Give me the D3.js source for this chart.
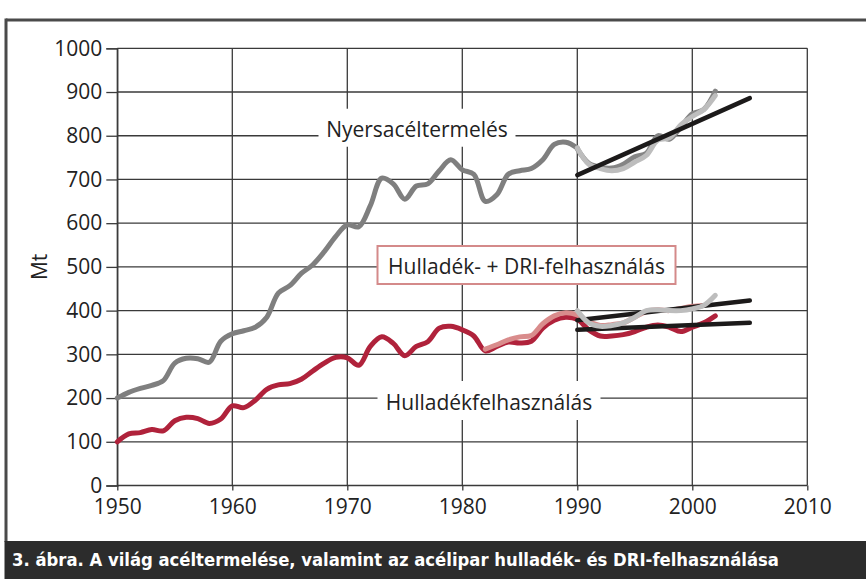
<!DOCTYPE html>
<html><head><meta charset="utf-8">
<script src="https://cdn.jsdelivr.net/npm/d3@7/dist/d3.min.js"></script>
<style>
html,body{margin:0;padding:0;background:#fff;}
svg{display:block;}
</style></head>
<body>
<svg id="chart" width="866" height="579"></svg>
<script>
// ---- data ----
const yearsCrude = d3.range(1950, 1991);
const crudeSteel = [200,213,222,229,240,280,291,290,282,330,
                    347,354,362,385,440,457,485,505,535,570,
                    596,592,640,703,690,655,685,690,720,745,
                    722,712,650,665,712,720,725,745,780,785,772];
const yearsLate = d3.range(1990, 2003);
const crudeSteelA = [770,737,728,726,735,752,760,800,792,820,850,860,902];
const crudeSteelB = [772,735,725,720,725,740,755,790,795,825,844,860,892];
const yearsScrap = d3.range(1950, 2003);
const scrapUse = [100,118,121,128,125,148,156,153,142,152,
                  182,178,195,220,230,233,243,262,280,293,
                  292,275,318,340,325,297,318,329,360,364,
                  356,342,308,318,328,326,330,360,378,385,
                  380,356,342,342,345,352,362,367,362,352,
                  362,372,388];
const yearsScrapDri = d3.range(1982, 2002);
const scrapDriUse = [312,322,333,340,343,370,388,395,390,375,
                     366,368,372,385,398,402,400,405,410,412];
const yearsScrapDriB = d3.range(1990, 2003);
const scrapDriB = [400,372,364,366,372,385,400,402,400,400,404,412,435];
const trendCrude = [[1990,710],[2005,886]];
const trendScrapDri = [[1990,378],[2005,423]];
const trendScrap = [[1990,356],[2005,372]];
const xTicks = [1950,1960,1970,1980,1990,2000,2010];
const yTicks = [0,100,200,300,400,500,600,700,800,900,1000];
const labelCrude = "Nyersacéltermelés";
const labelScrapDri = "Hulladék- + DRI-felhasználás";
const labelScrap = "Hulladékfelhasználás";
const yTitle = "Mt";
const caption = "3. ábra. A világ acéltermelése, valamint az acélipar hulladék- és DRI-felhasználása";

// ---- drawing ----
const svg = d3.select("#chart");
const FONT = "'Open Sans', sans-serif";
const x = d3.scaleLinear().domain([1950, 2010]).range([117.3, 807.3]);
const y = d3.scaleLinear().domain([0, 1000]).range([485.5, 48.3]);

// frame
svg.append("line").attr("x1",6).attr("x2",866).attr("y1",20).attr("y2",20)
   .attr("stroke","#4a4a4a").attr("stroke-width",3);
svg.append("line").attr("x1",6).attr("x2",6).attr("y1",18.5).attr("y2",542)
   .attr("stroke","#4a4a4a").attr("stroke-width",3);

// grid
const grid = svg.append("g").attr("stroke","#3a3a3a").attr("stroke-width",1.3);
grid.selectAll("line.h").data(yTicks).join("line").attr("class","h")
  .attr("x1", x(1950)).attr("x2", x(2010)).attr("y1", d=>y(d)).attr("y2", d=>y(d));
grid.selectAll("line.v").data(xTicks).join("line").attr("class","v")
  .attr("x1", d=>x(d)).attr("x2", d=>x(d)).attr("y1", y(1000)).attr("y2", y(0));

// axes
const yAxis = svg.append("g").attr("transform",`translate(${x(1950)},0)`)
  .call(d3.axisLeft(y).tickValues(yTicks).tickSize(11).tickPadding(4).tickFormat(d3.format("d")));
yAxis.select(".domain").attr("stroke","#3a3a3a").attr("stroke-width",1.3);
yAxis.selectAll(".tick line").attr("stroke","#3a3a3a").attr("stroke-width",1.3);
yAxis.selectAll("text").attr("font-family",FONT).attr("font-size",21).attr("fill","#222");

const xAxis = svg.append("g").attr("transform",`translate(0,${y(0)})`)
  .call(d3.axisBottom(x).tickValues(xTicks).tickSize(5).tickPadding(9).tickFormat(d3.format("d")));
xAxis.select(".domain").remove();
xAxis.selectAll(".tick line").attr("stroke","#3a3a3a").attr("stroke-width",1.3);
xAxis.selectAll("text").attr("font-family",FONT).attr("font-size",21).attr("fill","#222");

svg.append("text").attr("transform",`translate(47,${y(500)}) rotate(-90)`)
  .attr("text-anchor","middle").attr("font-family",FONT).attr("font-size",21).attr("fill","#222").text(yTitle);

// label boxes
function label(text, cx, baseY, w, h, stroke) {
  const g = svg.append("g");
  g.append("rect").attr("x", cx - w/2).attr("y", baseY - h + 10).attr("width", w).attr("height", h)
    .attr("fill","#fff").attr("stroke", stroke || "none").attr("stroke-width", stroke ? 2 : 0);
  g.append("text").attr("x", cx).attr("y", baseY).attr("text-anchor","middle")
    .attr("font-family",FONT).attr("font-size",21).attr("fill","#222").text(text);
}
label(labelCrude, 417, y(800)+1, 197, 38);
label(labelScrapDri, 526.5, 274, 298, 38, "#d48a8a");
label(labelScrap, 489, 410, 223, 39);

// lines
const line = d3.line().x(d=>x(d[0])).y(d=>y(d[1])).curve(d3.curveCatmullRom.alpha(0.5));
const straight = d3.line().x(d=>x(d[0])).y(d=>y(d[1]));
function path(data, color, w, gen) {
  svg.append("path").datum(data).attr("d", (gen||line)).attr("fill","none")
    .attr("stroke", color).attr("stroke-width", w).attr("stroke-linecap","round").attr("stroke-linejoin","round");
}
const zip = (xs, ys) => xs.map((v,i)=>[v, ys[i]]);

path(zip(yearsCrude, crudeSteel), "#7f7f7f", 5);
path(zip(yearsLate, crudeSteelA), "#858585", 5);
path(zip(yearsLate, crudeSteelB), "#bdbdbd", 5);
path(trendCrude, "#1c1a1a", 4.5, straight);

path(zip(yearsScrap, scrapUse), "#b0223b", 5);
path(zip(yearsScrapDri, scrapDriUse), "#d98c8c", 5);
path(trendScrap, "#1c1a1a", 4.5, straight);
path(trendScrapDri, "#1c1a1a", 4.5, straight);
path(zip(yearsScrapDriB, scrapDriB), "#bdbdbd", 5);

// caption bar
svg.append("rect").attr("x",4.5).attr("y",541).attr("width",862).attr("height",38).attr("fill","#2c2c2c");
svg.append("text").attr("x",12).attr("y",566).attr("font-family","'DejaVu Sans Condensed','DejaVu Sans',sans-serif")
  .attr("font-weight","bold").attr("font-size",18.3).attr("fill","#fff").text(caption);
</script>
</body></html>
